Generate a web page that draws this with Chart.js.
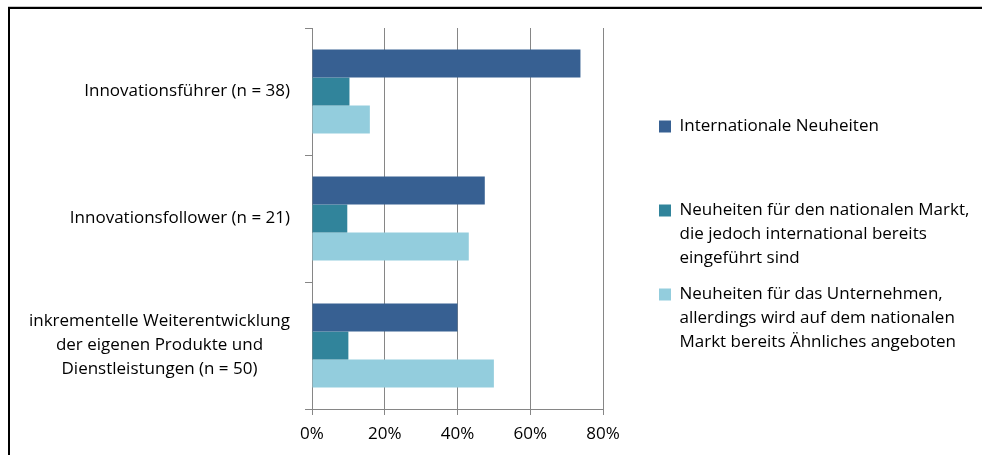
<!DOCTYPE html>
<html lang="de">
<head>
<meta charset="utf-8">
<title>Neuheitsgrad der Innovationen</title>
<script src="https://cdn.jsdelivr.net/npm/chart.js@4.4.1/dist/chart.umd.min.js"></script>
<style>
  html, body { margin: 0; padding: 0; background: #fff; overflow: hidden; }
  #wrap { position: relative; width: 982px; height: 455px; }
  #chart { position: absolute; left: 0; top: 0; }
  #frame {
    position: absolute; left: 8px; top: 7px; width: 1200px; height: 800px;
    border: 2px solid #000; box-shadow: 0 -1px 0 #c8c8c8; pointer-events: none;
  }
</style>
</head>
<body>
<div id="wrap">
  <canvas id="chart" width="982" height="455"></canvas>
  <div id="frame"></div>
</div>
<script>
// Kategorien (mehrzeilig) und Anteile je Art der Neuheit in %
const categories = [
  ['Innovationsführer (n = 38)'],
  ['Innovationsfollower (n = 21)'],
  ['inkrementelle Weiterentwicklung', 'der eigenen Produkte und', 'Dienstleistungen (n = 50)']
];
const internationalValues = [73.8, 47.5, 40.0];
const nationalValues = [10.3, 9.7, 10.0];
const companyValues = [15.9, 43.1, 50.0];

const seriesLabels = [
  ['Internationale Neuheiten'],
  ['Neuheiten für den nationalen Markt,', 'die jedoch international bereits', 'eingeführt sind'],
  ['Neuheiten für das Unternehmen,', 'allerdings wird auf dem nationalen', 'Markt bereits Ähnliches angeboten']
];
const seriesColors = ['#376092', '#31849b', '#93cddd'];
const xTicks = [0, 20, 40, 60, 80];

const FONT = '"Open Sans", Lato, sans-serif';
const FONT_SIZE = 17;
const LINE = 24;
const gridColor = '#868686';

// y-axis labels: single lines right aligned, multi-line blocks centred under their widest line
const categoryLabels = {
  id: 'categoryLabels',
  afterDraw(chart) {
    const yScale = chart.scales.y;
    const ctx = chart.ctx;
    ctx.save();
    ctx.font = FONT_SIZE + 'px ' + FONT;
    ctx.fillStyle = '#000';
    ctx.textAlign = 'center';
    ctx.textBaseline = 'middle';
    categories.forEach((lines, i) => {
      const cy = yScale.getPixelForTick(i);
      const right = yScale.right - 22;
      const widest = Math.max(...lines.map(l => ctx.measureText(l).width));
      lines.forEach((line, j) => {
        ctx.fillText(line, right - widest / 2, cy + (j - (lines.length - 1) / 2) * LINE);
      });
    });
    ctx.restore();
  }
};

// legend gets a fixed slot to the right of the plot, with a gap before the boxes
const legendSlot = {
  id: 'legendSlot',
  beforeLayout(chart, args, opts) {
    const legend = chart.legend;
    if (!legend || legend._slotPatched) return;
    const fit = legend.fit;
    legend.fit = function () {
      fit.call(this);
      this.width = opts.width;
    };
    legend._slotPatched = true;
  },
  afterLayout(chart, args, opts) {
    chart.legend.left += opts.gap;
  }
};

const ctx = document.getElementById('chart').getContext('2d');

new Chart(ctx, {
  type: 'bar',
  data: {
    labels: categories.map(c => c.join(' ')),
    datasets: [
      { label: seriesLabels[0].join(' '), data: internationalValues, backgroundColor: seriesColors[0] },
      { label: seriesLabels[1].join(' '), data: nationalValues, backgroundColor: seriesColors[1] },
      { label: seriesLabels[2].join(' '), data: companyValues, backgroundColor: seriesColors[2] }
    ]
  },
  options: {
    indexAxis: 'y',
    responsive: false,
    animation: false,
    layout: { padding: { left: 0, top: 28, right: 0, bottom: 7 } },
    datasets: {
      bar: { categoryPercentage: 0.66, barPercentage: 1.0, borderWidth: 0 }
    },
    scales: {
      x: {
        min: 0,
        max: 80,
        afterBuildTicks: scale => { scale.ticks = xTicks.map(v => ({ value: v })); },
        afterFit: scale => { scale.height = 39; },
        ticks: {
          padding: 9,
          color: '#000',
          font: { family: FONT, size: FONT_SIZE },
          callback: v => v + '%'
        },
        grid: { color: gridColor, lineWidth: 1, tickLength: 6 },
        border: { color: gridColor, width: 1 }
      },
      y: {
        afterFit: scale => { scale.width = 312; },
        ticks: { display: false },
        grid: {
          offset: true,
          drawOnChartArea: false,
          color: gridColor,
          tickLength: 7
        },
        border: { color: gridColor, width: 1 }
      }
    },
    plugins: {
      legendSlot: { width: 379, gap: 44 },
      tooltip: { enabled: false },
      legend: {
        position: 'right',
        align: 'center',
        labels: {
          boxWidth: 12,
          boxHeight: 12,
          padding: 12,
          color: '#000',
          font: { family: FONT, size: FONT_SIZE, lineHeight: LINE / FONT_SIZE },
          generateLabels(chart) {
            const items = Chart.defaults.plugins.legend.labels.generateLabels(chart);
            items.forEach((item, i) => {
              // every entry takes three lines so the entries are spread evenly
              const lines = seriesLabels[i].slice();
              while (lines.length < 3) lines.push('');
              item.text = lines;
            });
            return items;
          }
        }
      }
    }
  },
  plugins: [categoryLabels, legendSlot]
});
</script>
</body>
</html>
